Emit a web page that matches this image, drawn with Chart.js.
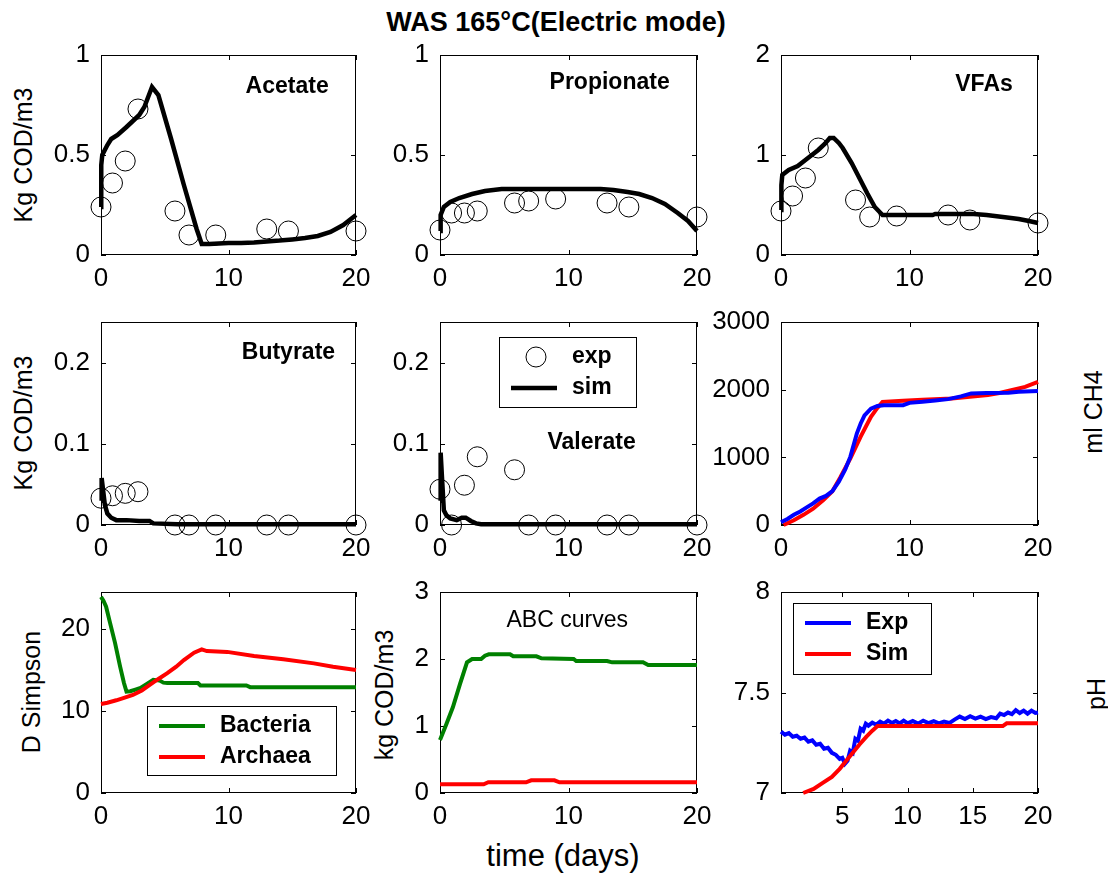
<!DOCTYPE html>
<html>
<head>
<meta charset="utf-8">
<script src="https://cdn.jsdelivr.net/npm/chart.js@4"></script>
<style>
  body { margin: 0; background: #fff; }
  #fig { position: relative; width: 1108px; height: 876px; background: #fff; overflow: hidden;
         font-family: 'Liberation Sans', Arial, sans-serif; color: #000; }
  #fig canvas { position: absolute; }
  .lbl { position: absolute; white-space: nowrap; transform: translate(-50%, -50%); }
  .rot { transform: translate(-50%, -50%) rotate(-90deg); }
</style>
</head>
<body>
<div id="fig">
  <div class="lbl" style="left:556px;top:22px;font-size:27px;font-weight:bold;">WAS 165°C(Electric mode)</div>
  <div class="lbl rot" style="left:23px;top:155px;font-size:25px;">Kg COD/m3</div>
  <div class="lbl rot" style="left:23px;top:423px;font-size:25px;">Kg COD/m3</div>
  <div class="lbl rot" style="left:31px;top:692px;font-size:25px;">D Simpson</div>
  <div class="lbl rot" style="left:384px;top:695px;font-size:25px;">kg COD/m3</div>
  <div class="lbl rot" style="left:1093px;top:412px;font-size:25px;">ml CH4</div>
  <div class="lbl rot" style="left:1096px;top:694px;font-size:25px;">pH</div>
  <div class="lbl" style="left:563px;top:856px;font-size:31px;">time (days)</div>
</div>
<script>
// sampling days of the lab measurements
let expDays = [0, 0.9, 1.9, 2.9, 5.8, 6.9, 9, 13, 14.7, 20];

let acetateExp = [0.24, 0.36, 0.47, 0.73, 0.22, 0.10, 0.10, 0.13, 0.12, 0.12];
let acetateSimT = [0, 0.02, 0.1, 0.5, 0.8, 1.3, 2, 2.5, 3, 3.4, 3.7, 4, 4.5, 5.5, 6.5, 7.5, 7.9, 8.5, 10, 11, 12, 13, 14, 15, 16, 17, 18, 19, 20];
let acetateSim = [0.24, 0.45, 0.5, 0.55, 0.58, 0.6, 0.64, 0.67, 0.7, 0.74, 0.79, 0.84, 0.8, 0.58, 0.35, 0.13, 0.055, 0.055, 0.06, 0.06, 0.062, 0.068, 0.072, 0.078, 0.085, 0.095, 0.115, 0.15, 0.2];

let propionateExp = [0.125, 0.21, 0.21, 0.22, 0.26, 0.27, 0.28, 0.26, 0.24, 0.19];
let propionateSimT = [0, 0.05, 0.3, 0.8, 1.5, 2.5, 3.5, 4.8, 6, 8, 10, 12.5, 13.5, 14.6, 15.5, 16.5, 17.5, 18.5, 19.3, 20];
let propionateSim = [0.12, 0.2, 0.24, 0.265, 0.285, 0.305, 0.32, 0.33, 0.33, 0.33, 0.33, 0.33, 0.325, 0.315, 0.305, 0.285, 0.255, 0.21, 0.17, 0.12];

let vfaExp = [0.44, 0.59, 0.77, 1.07, 0.55, 0.38, 0.39, 0.40, 0.35, 0.32];
let vfaSimT = [0, 0.03, 0.1, 0.6, 1.3, 2.1, 2.9, 3.4, 3.8, 4.1, 4.5, 4.8, 5.5, 6.1, 6.7, 7.3, 7.9, 9, 11.8, 12, 15, 16, 17.9, 18.5, 19.3, 20];
let vfaSim = [0.45, 0.7, 0.8, 0.85, 0.89, 0.97, 1.05, 1.11, 1.17, 1.17, 1.12, 1.07, 0.92, 0.77, 0.62, 0.48, 0.4, 0.4, 0.4, 0.41, 0.41, 0.4, 0.37, 0.36, 0.34, 0.32];

let butyrateExp = [0.033, 0.036, 0.039, 0.041, 0, 0, 0, 0, 0, 0];
let butyrateSimT = [0, 0.05, 0.15, 0.3, 0.5, 0.8, 1.2, 2, 3, 3.8, 4.1, 6, 10, 15, 20];
let butyrateSim = [0.03, 0.058, 0.045, 0.025, 0.014, 0.009, 0.006, 0.006, 0.005, 0.005, 0.002, 0.001, 0.001, 0.001, 0.001];

let valerateExp = [0.044, 0, 0.049, 0.084, 0.068, 0, 0, 0, 0, 0];
let valerateSimT = [0, 0.05, 0.15, 0.3, 0.5, 0.8, 1.3, 1.7, 2.0, 2.4, 2.8, 3.2, 10, 20];
let valerateSim = [0.03, 0.089, 0.06, 0.018, 0.012, 0.008, 0.006, 0.009, 0.009, 0.005, 0.002, 0.001, 0.001, 0.001];

let ch4ExpT = [0, 0.5, 1, 1.5, 2, 2.5, 3, 3.5, 4, 4.5, 5, 5.4, 5.9, 6.2, 6.5, 7, 7.5, 8, 9.5, 10, 11, 12, 13, 14, 14.8, 16, 17.7, 18.5, 20];
let ch4Exp = [40, 90, 150, 200, 260, 320, 390, 430, 500, 640, 820, 1010, 1350, 1500, 1620, 1720, 1760, 1770, 1770, 1805, 1820, 1840, 1860, 1900, 1945, 1950, 1955, 1970, 1980];
let ch4SimT = [0.2, 1, 1.75, 2.5, 3.3, 4, 4.6, 5.4, 6.2, 7, 7.5, 7.9, 9.5, 11, 13.3, 16.1, 17, 18, 19, 20];
let ch4Sim = [0, 70, 150, 240, 370, 500, 700, 985, 1305, 1600, 1730, 1820, 1835, 1850, 1870, 1920, 1950, 1995, 2040, 2115];

let bacteriaT = [0, 0.2, 0.4, 0.7, 1.1, 1.5, 1.8, 2.0, 2.3, 2.7, 3.1, 3.6, 4.1, 4.6, 4.9, 5.2, 7.6, 7.8, 11.4, 11.7, 20];
let bacteria = [23.9, 23.4, 22.7, 20.8, 18.3, 15.4, 13.4, 12.35, 12.4, 12.6, 12.8, 13.3, 13.8, 13.7, 13.45, 13.4, 13.4, 13.1, 13.1, 12.9, 12.9];
let archaeaT = [0, 0.5, 1.2, 1.8, 2.5, 3.2, 3.85, 4.5, 5.2, 5.9, 6.5, 7.3, 7.9, 8.3, 9.9, 12, 14.3, 16.7, 18.2, 20];
let archaea = [10.85, 11.0, 11.3, 11.6, 11.95, 12.5, 13.2, 13.9, 14.6, 15.4, 16.2, 17.1, 17.5, 17.3, 17.2, 16.7, 16.3, 15.8, 15.4, 15.0];

let abcBactT = [0, 0.5, 1.0, 1.56, 2.1, 2.5, 3.2, 3.5, 3.8, 5.45, 5.7, 7.5, 7.9, 10.4, 10.6, 13, 13.4, 15.8, 16.2, 20];
let abcBact = [0.79, 1.03, 1.28, 1.63, 1.95, 2.0, 2.0, 2.05, 2.07, 2.07, 2.04, 2.04, 2.01, 2.0, 1.97, 1.97, 1.95, 1.95, 1.91, 1.91];
let abcArchT = [0, 3.4, 3.76, 6.7, 7.1, 8.9, 9.3, 20];
let abcArch = [0.13, 0.13, 0.16, 0.16, 0.19, 0.19, 0.16, 0.16];

let phExpT = [0.3, 0.6, 0.9, 1.2, 1.5, 1.8, 2.1, 2.4, 2.7, 3.0, 3.3, 3.6, 3.9, 4.2, 4.5, 4.8, 5.0, 5.2, 5.4, 5.6, 5.8, 6.0, 6.2, 6.4, 6.6, 6.8, 7.0, 7.3, 7.6, 7.9, 8.2, 8.5, 8.8, 9.1, 9.4, 9.7, 10.0, 10.4, 10.8, 11.2, 11.6, 12.0, 12.4, 12.8, 13.2, 13.6, 14.0, 14.4, 14.8, 15.2, 15.6, 16.0, 16.4, 16.8, 17.1, 17.4, 17.7, 18.0, 18.3, 18.6, 18.9, 19.2, 19.5, 19.8, 20.0];
let phExp = [7.305, 7.29, 7.298, 7.28, 7.285, 7.27, 7.276, 7.255, 7.262, 7.24, 7.245, 7.22, 7.225, 7.2, 7.19, 7.17, 7.175, 7.145, 7.16, 7.21, 7.2, 7.27, 7.26, 7.32, 7.31, 7.345, 7.335, 7.35, 7.34, 7.355, 7.345, 7.36, 7.348, 7.358, 7.346, 7.36, 7.347, 7.358, 7.345, 7.36, 7.348, 7.357, 7.346, 7.355, 7.348, 7.365, 7.38, 7.368, 7.382, 7.37, 7.38, 7.368, 7.378, 7.372, 7.395, 7.388, 7.4, 7.392, 7.412, 7.398, 7.41, 7.395, 7.41, 7.398, 7.4];
let phSimT = [2.0, 2.8, 3.5, 4.2, 4.8, 5.3, 5.8, 6.3, 6.85, 7.3, 7.7, 8.0, 17.3, 17.6, 20];
let phSim = [7.0, 7.02, 7.05, 7.08, 7.12, 7.16, 7.2, 7.24, 7.28, 7.31, 7.333, 7.333, 7.333, 7.347, 7.347];

let tick0to20 = [0, 10, 20];
let tickPhDays = [5, 10, 15, 20];

let pts = (xs, ys) => xs.map((v, i) => ({x: v, y: ys[i]}));

let FONT = "'Liberation Sans', Arial, sans-serif";

// MATLAB-like box with inward ticks on all four sides, plus text and legend
const matlabAxes = {
    id: 'matlabAxes',
    beforeDatasetsDraw(chart) {
        let {ctx, chartArea: a, scales} = chart;
        ctx.save();
        ctx.strokeStyle = '#000';
        ctx.lineWidth = 1;
        ctx.strokeRect(a.left + 0.5, a.top + 0.5, a.width - 1, a.height - 1);
        ctx.beginPath();
        scales.x.ticks.forEach(t => {
            let px = Math.round(scales.x.getPixelForValue(t.value)) + 0.5;
            ctx.moveTo(px, a.bottom); ctx.lineTo(px, a.bottom - 5);
            ctx.moveTo(px, a.top); ctx.lineTo(px, a.top + 5);
        });
        scales.y.ticks.forEach(t => {
            let py = Math.round(scales.y.getPixelForValue(t.value)) + 0.5;
            ctx.moveTo(a.left, py); ctx.lineTo(a.left + 5, py);
            ctx.moveTo(a.right, py); ctx.lineTo(a.right - 5, py);
        });
        ctx.stroke();
        ctx.restore();
    },
    afterDraw(chart, args, opts) {
        let {ctx, chartArea: a, scales} = chart;
        ctx.save();
        if (opts.note) {
            let n = opts.note;
            ctx.fillStyle = '#000';
            ctx.font = (n.bold ? 'bold ' : '') + n.size + 'px ' + FONT;
            ctx.textAlign = 'center';
            ctx.textBaseline = 'middle';
            ctx.fillText(n.text, scales.x.getPixelForValue(n.x), scales.y.getPixelForValue(n.y));
        }
        if (opts.legend) {
            let L = opts.legend;
            let bx = a.left + L.left, by = a.top + L.top;
            ctx.fillStyle = '#fff';
            ctx.fillRect(bx, by, L.width, L.height);
            ctx.strokeStyle = '#000';
            ctx.lineWidth = 1;
            ctx.strokeRect(bx + 0.5, by + 0.5, L.width, L.height);
            ctx.font = 'bold 23px ' + FONT;
            ctx.textBaseline = 'middle';
            ctx.textAlign = 'left';
            chart.data.datasets.forEach((ds, i) => {
                let ry = by + 20 + i * 31;
                if (ds.showLine) {
                    ctx.strokeStyle = ds.borderColor;
                    ctx.lineWidth = ds.borderWidth;
                    ctx.beginPath();
                    ctx.moveTo(bx + 12, ry);
                    ctx.lineTo(bx + 58, ry);
                    ctx.stroke();
                } else {
                    ctx.strokeStyle = '#000';
                    ctx.lineWidth = 1;
                    ctx.beginPath();
                    ctx.arc(bx + 37, ry, ds.pointRadius, 0, Math.PI * 2);
                    ctx.stroke();
                }
                ctx.fillStyle = '#000';
                ctx.fillText(ds.label, bx + 73, ry);
            });
        }
        ctx.restore();
    }
};

let expSet = (label, xs, ys) => ({
    label: label, data: pts(xs, ys), showLine: false, clip: false,
    pointStyle: 'circle', pointRadius: 10, pointHoverRadius: 10,
    pointBorderColor: '#000', pointBackgroundColor: 'rgba(0,0,0,0)', pointBorderWidth: 1
});

let lineSet = (label, xs, ys, color, width, order) => ({
    label: label, data: pts(xs, ys), showLine: true, clip: false,
    borderColor: color, borderWidth: width, pointRadius: 0, tension: 0, order: order || 0
});

function makeAxis(min, max, tickVals, isX) {
    return {
        type: 'linear', min: min, max: max,
        afterBuildTicks: s => { s.ticks = tickVals.map(v => ({value: v})); },
        afterFit: s => {
            if (isX) s.height = 50; else s.width = 100;
            // keep the plot box fixed, labels may overflow
            s.paddingLeft = 0; s.paddingRight = 0; s.paddingTop = 0; s.paddingBottom = 0;
        },
        grid: {display: false, drawTicks: false},
        border: {display: false},
        ticks: {
            color: '#000', font: {family: FONT, size: 26}, padding: isX ? 8 : 11,
            autoSkip: false, maxRotation: 0, callback: v => String(v)
        }
    };
}

function panel(box, xr, xt, yr, yt, datasets, extra) {
    let [left, top, right, bottom] = box;
    let canvas = document.createElement('canvas');
    let w = right - left + 120, h = bottom - top + 70;
    canvas.width = w; canvas.height = h;
    canvas.style.left = (left - 100) + 'px';
    canvas.style.top = (top - 20) + 'px';
    canvas.style.width = w + 'px';
    canvas.style.height = h + 'px';
    document.getElementById('fig').appendChild(canvas);
    return new Chart(canvas.getContext('2d'), {
        type: 'scatter',
        data: {datasets: datasets},
        options: {
            responsive: false, animation: false, devicePixelRatio: 1,
            layout: {autoPadding: false, padding: {top: 20, right: 20, left: 0, bottom: 0}},
            scales: {x: makeAxis(xr[0], xr[1], xt, true), y: makeAxis(yr[0], yr[1], yt, false)},
            plugins: {legend: {display: false}, tooltip: {enabled: false}, matlabAxes: extra || {}}
        },
        plugins: [matlabAxes]
    });
}

let col1 = [101, 356], col2 = [440, 697], col3 = [781, 1038];
let row1 = [55, 255], row2 = [322, 525], row3 = [592, 793];
let bx = (c, r) => [c[0], r[0], c[1], r[1]];

panel(bx(col1, row1), [0, 20], tick0to20, [0, 1], [0, 0.5, 1],
    [expSet('exp', expDays, acetateExp), lineSet('sim', acetateSimT, acetateSim, '#000', 4.5)],
    {note: {text: 'Acetate', x: 14.6, y: 0.84, bold: true, size: 23}});

panel(bx(col2, row1), [0, 20], tick0to20, [0, 1], [0, 0.5, 1],
    [expSet('exp', expDays, propionateExp), lineSet('sim', propionateSimT, propionateSim, '#000', 4.5)],
    {note: {text: 'Propionate', x: 13.2, y: 0.86, bold: true, size: 23}});

panel(bx(col3, row1), [0, 20], tick0to20, [0, 2], [0, 1, 2],
    [expSet('exp', expDays, vfaExp), lineSet('sim', vfaSimT, vfaSim, '#000', 4.5)],
    {note: {text: 'VFAs', x: 15.8, y: 1.7, bold: true, size: 23}});

panel(bx(col1, row2), [0, 20], tick0to20, [0, 0.25], [0, 0.1, 0.2],
    [expSet('exp', expDays, butyrateExp), lineSet('sim', butyrateSimT, butyrateSim, '#000', 4.5)],
    {note: {text: 'Butyrate', x: 14.7, y: 0.212, bold: true, size: 23}});

panel(bx(col2, row2), [0, 20], tick0to20, [0, 0.25], [0, 0.1, 0.2],
    [expSet('exp', expDays, valerateExp), lineSet('sim', valerateSimT, valerateSim, '#000', 4.5)],
    {note: {text: 'Valerate', x: 11.8, y: 0.101, bold: true, size: 23},
     legend: {left: 59, top: 15, width: 137, height: 70}});

panel(bx(col3, row2), [0, 20], tick0to20, [0, 3000], [0, 1000, 2000, 3000],
    [lineSet('Exp', ch4ExpT, ch4Exp, '#0000ff', 4, 0), lineSet('Sim', ch4SimT, ch4Sim, '#ff0000', 4, 1)]);

panel(bx(col1, row3), [0, 20], tick0to20, [0, 24.5], [0, 10, 20],
    [lineSet('Bacteria', bacteriaT, bacteria, '#008000', 4, 1), lineSet('Archaea', archaeaT, archaea, '#ff0000', 4, 0)],
    {legend: {left: 46, top: 114, width: 189, height: 69}});

panel(bx(col2, row3), [0, 20], tick0to20, [0, 3], [0, 1, 2, 3],
    [lineSet('Bacteria', abcBactT, abcBact, '#008000', 4, 1), lineSet('Archaea', abcArchT, abcArch, '#ff0000', 4, 0)],
    {note: {text: 'ABC curves', x: 9.9, y: 2.57, bold: false, size: 23}});

panel(bx(col3, row3), [0.3, 20], tickPhDays, [7, 8], [7, 7.5, 8],
    [lineSet('Exp', phExpT, phExp, '#0000ff', 4, 1), lineSet('Sim', phSimT, phSim, '#ff0000', 4, 0)],
    {legend: {left: 12, top: 11, width: 138, height: 71}});
</script>
</body>
</html>
